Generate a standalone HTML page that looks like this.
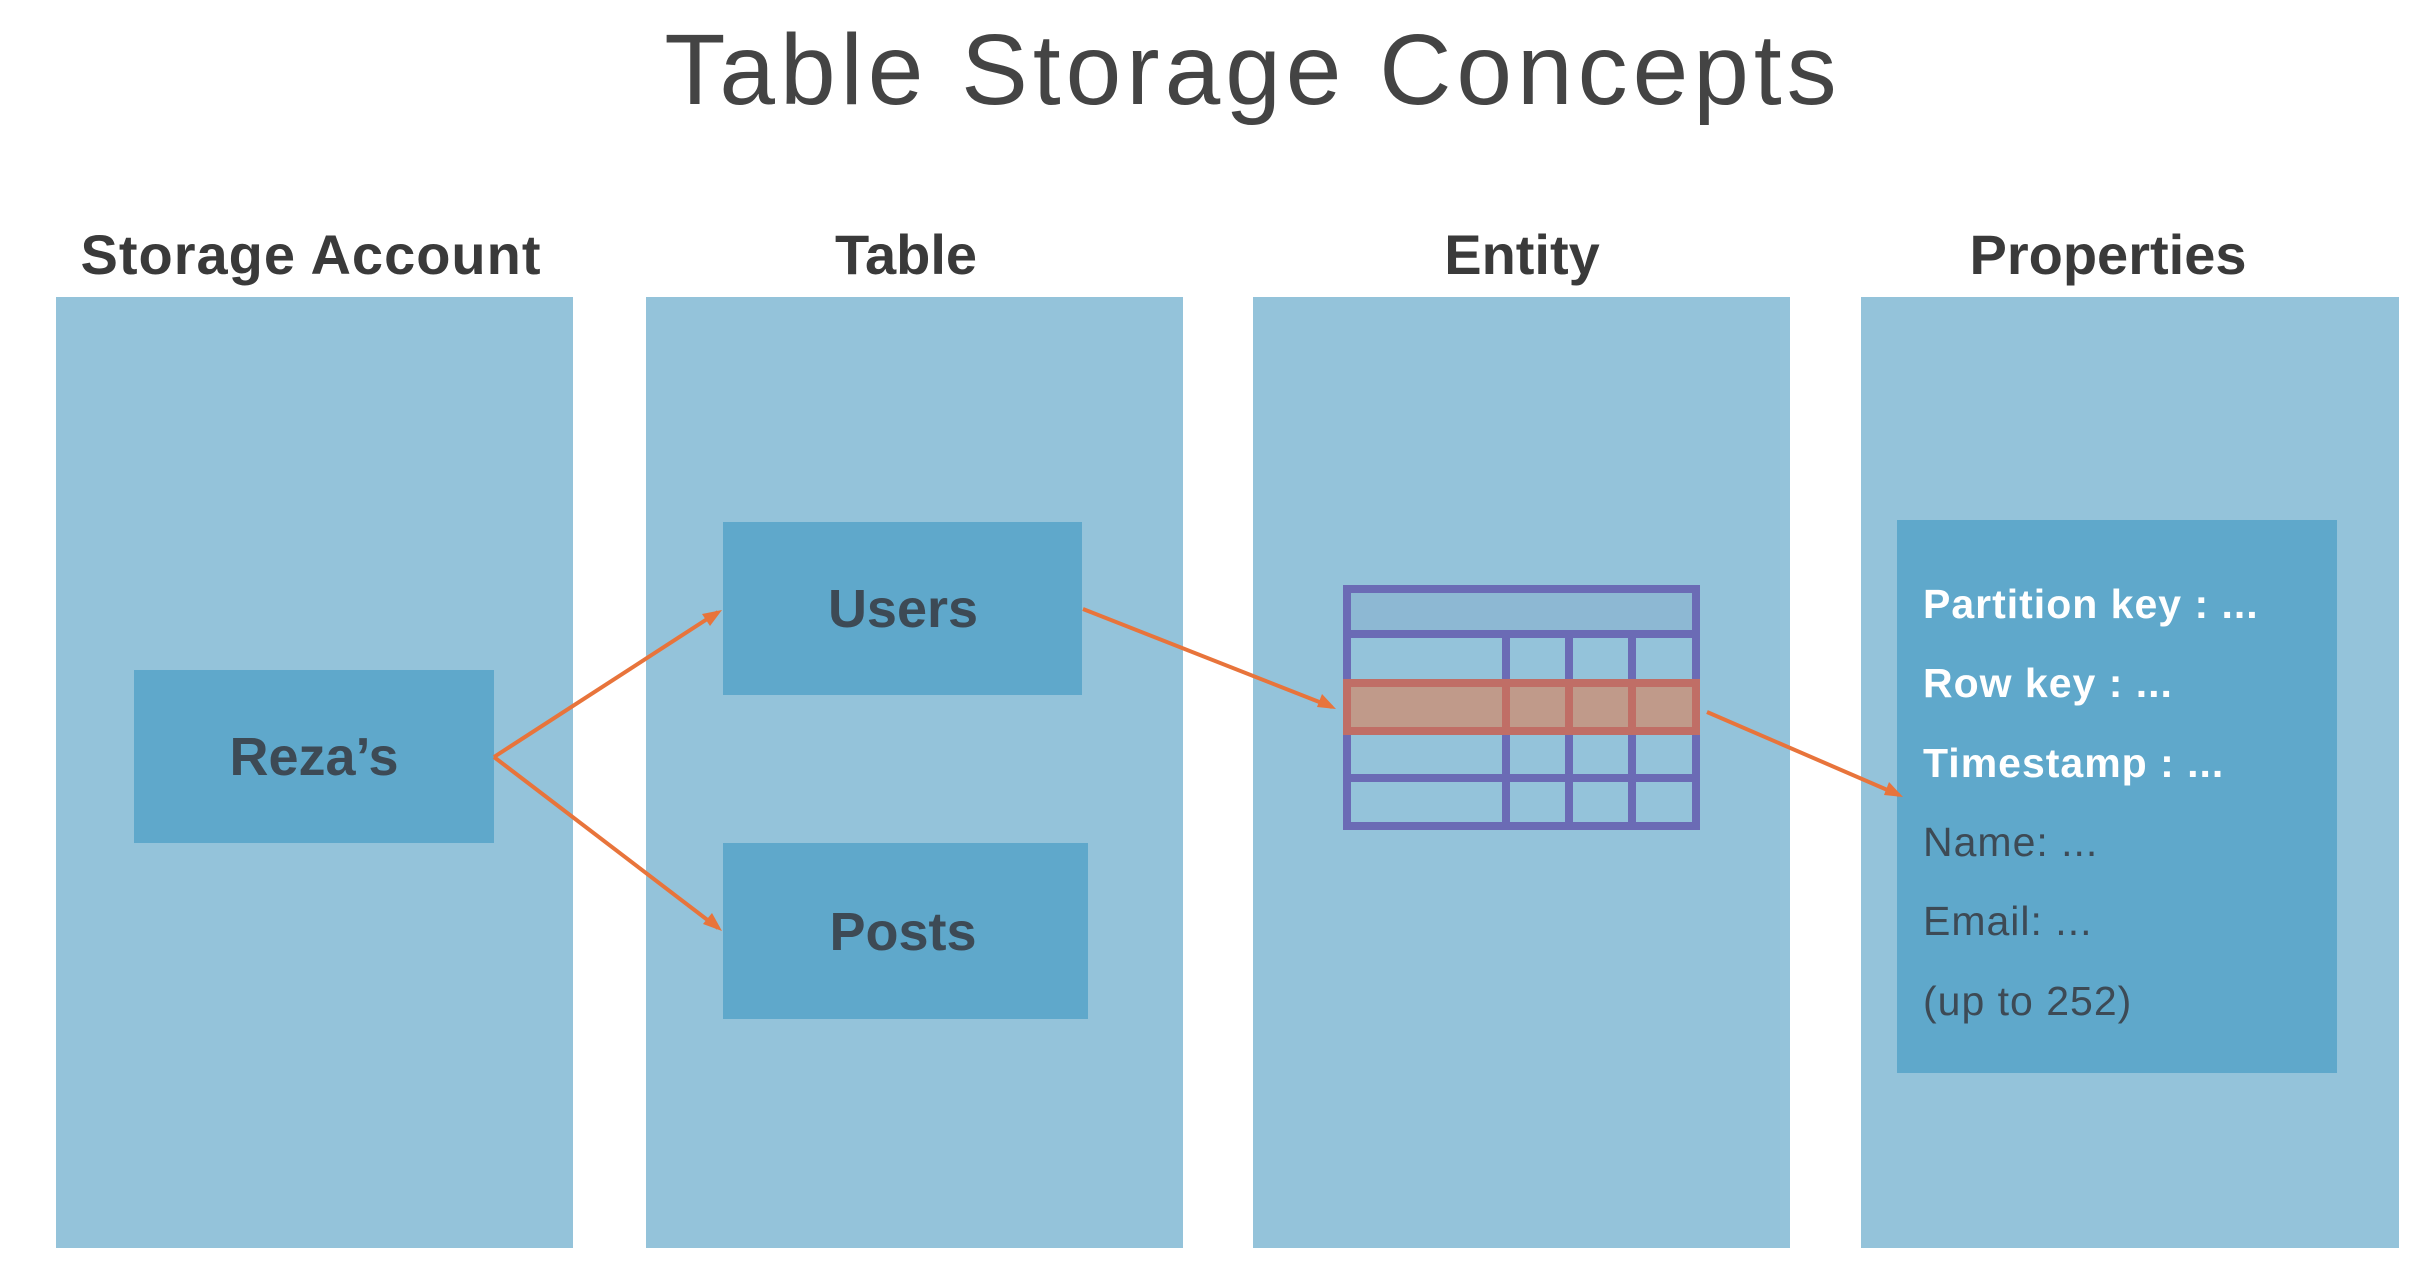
<!DOCTYPE html>
<html><head><meta charset="utf-8"><style>
html,body{margin:0;padding:0;background:#fff;}
svg{display:block;}
</style></head><body>
<svg width="2422" height="1282" viewBox="0 0 2422 1282" xmlns="http://www.w3.org/2000/svg" font-family="Liberation Sans, sans-serif">
<rect width="2422" height="1282" fill="#fff"/>
<text x="1253" y="104" font-size="100" fill="#444" text-anchor="middle" font-weight="300" letter-spacing="5">Table Storage Concepts</text>
<g font-size="56" fill="#3a3a3a" text-anchor="middle" font-weight="bold">
<text x="311" y="274" letter-spacing="1">Storage Account</text>
<text x="906" y="274">Table</text>
<text x="1522" y="274">Entity</text>
<text x="2108" y="274">Properties</text>
</g>
<g fill="#94c3da">
<rect x="56" y="297" width="517" height="951"/>
<rect x="646" y="297" width="537" height="951"/>
<rect x="1253" y="297" width="537" height="951"/>
<rect x="1861" y="297" width="538" height="951"/>
</g>
<g fill="#5fa8cb">
<rect x="134" y="670" width="360" height="173"/>
<rect x="723" y="522" width="359" height="173"/>
<rect x="723" y="843" width="365" height="176"/>
<rect x="1897" y="520" width="440" height="553"/>
</g>
<g font-size="54" fill="#3d4a55" text-anchor="middle" font-weight="bold">
<text x="314" y="775">Reza’s</text>
<text x="903" y="627">Users</text>
<text x="903" y="950">Posts</text>
</g>
<g font-size="41" font-weight="bold">
<text x="1923" y="618" fill="#fff" letter-spacing="1">Partition key : ...</text>
<text x="1923" y="697" fill="#fff" letter-spacing="1">Row key : ...</text>
<text x="1923" y="777" fill="#fff" letter-spacing="1">Timestamp : ...</text>
<text x="1923" y="856" fill="#3d4a55" font-weight="normal" letter-spacing="1">Name: ...</text>
<text x="1923" y="935" fill="#3d4a55" font-weight="normal" letter-spacing="1">Email: ...</text>
<text x="1923" y="1015" fill="#3d4a55" font-weight="normal" letter-spacing="1">(up to 252)</text>
</g>
<rect x="1347" y="589" width="349" height="45" fill="#8db8d3"/>
<g stroke="#6b6bb5" stroke-width="8" fill="none">
<rect x="1347" y="589" width="349" height="237"/>
<line x1="1347" y1="634" x2="1696" y2="634"/>
<line x1="1347" y1="778" x2="1696" y2="778"/>
<line x1="1506" y1="634" x2="1506" y2="826"/>
<line x1="1569" y1="634" x2="1569" y2="826"/>
<line x1="1632" y1="634" x2="1632" y2="826"/>
</g>
<rect x="1347" y="683" width="349" height="48" fill="#c09a8a" stroke="#c06e66" stroke-width="8"/>
<g stroke="#c06e66" stroke-width="8">
<line x1="1506" y1="683" x2="1506" y2="731"/>
<line x1="1569" y1="683" x2="1569" y2="731"/>
<line x1="1632" y1="683" x2="1632" y2="731"/>
</g>
<g stroke="#e8743b" stroke-width="4" fill="none">
<line x1="494" y1="757" x2="718" y2="612"/>
<line x1="494" y1="757" x2="718" y2="928"/>
<line x1="1083" y1="609" x2="1332" y2="707"/>
<line x1="1707" y1="712" x2="1899" y2="795"/>
</g>
<g fill="#e8743b">
<path d="M722,610 l-20,4 l8,12 z"/>
<path d="M722,931 l-10,-18 l-9,11 z"/>
<path d="M1336,709 l-14,-15 l-5,13 z"/>
<path d="M1903,797 l-14,-15 l-5,13 z"/>
</g>
</svg>
</body></html>
